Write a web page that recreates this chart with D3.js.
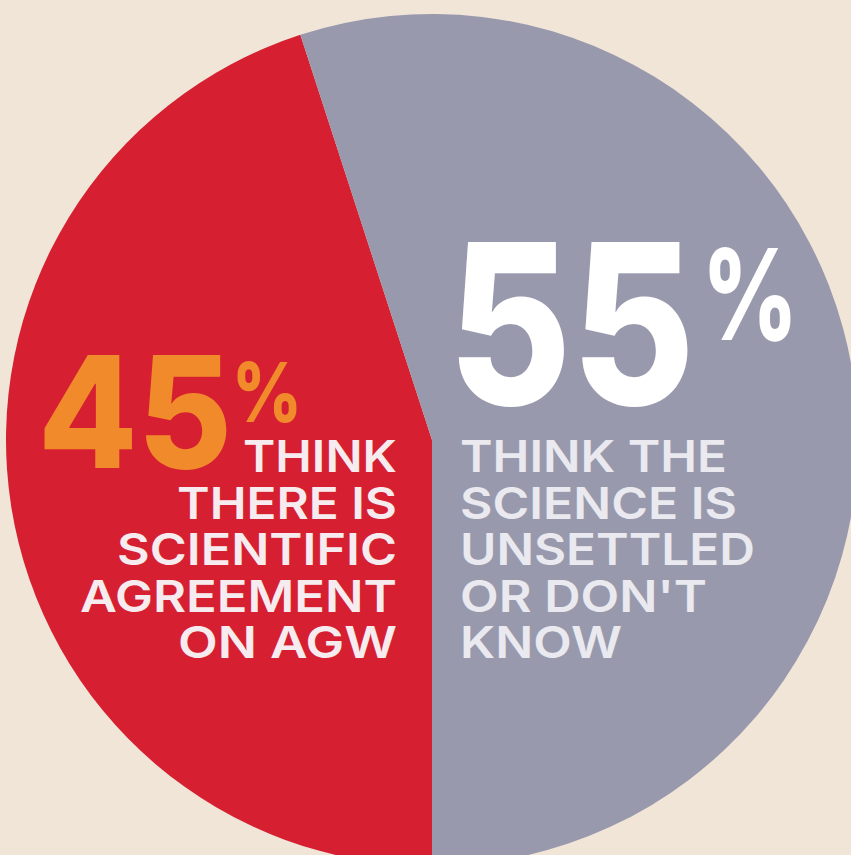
<!DOCTYPE html>
<html>
<head>
<meta charset="utf-8">
<script src="https://cdn.jsdelivr.net/npm/d3@7/dist/d3.min.js"></script>
<style>
html,body{margin:0;padding:0;background:#f1e5d7;}
svg{display:block;}
</style>
</head>
<body>
<svg id="chart" width="851" height="855"></svg>
<script>
// ---- data ----
const categories = ["Agreement on AGW", "Unsettled or don't know"];
const values = [45, 55];
const leftLines = ["THINK", "THERE IS", "SCIENTIFIC", "AGREEMENT", "ON AGW"];
const rightLines = ["THINK THE", "SCIENCE IS", "UNSETTLED", "OR DON'T", "KNOW"];

// ---- layout ----
const W = 851, H = 855;
const cx = 432, cy = 440, R = 426;
const svg = d3.select("#chart");
svg.append("rect").attr("width", W).attr("height", H).attr("fill", "#f1e5d7");

const defs = svg.append("defs");
const grad = defs.append("linearGradient").attr("id", "redGrad")
  .attr("gradientUnits", "userSpaceOnUse")
  .attr("x1", 0).attr("y1", 0).attr("x2", cx).attr("y2", 0);
grad.append("stop").attr("offset", "0%").attr("stop-color", "#d61f31");
grad.append("stop").attr("offset", "65%").attr("stop-color", "#cb1e2e");
grad.append("stop").attr("offset", "100%").attr("stop-color", "#b71c2c");

const colors = d3.scaleOrdinal().domain(categories).range(["url(#redGrad)", "#9899ad"]);

const pie = d3.pie().sort(null).value(d => d.v)
  .startAngle(Math.PI).endAngle(3 * Math.PI);
const arcs = pie(categories.map((c, i) => ({c, v: values[i]})));
const arc = d3.arc().innerRadius(0).outerRadius(R);

const g = svg.append("g").attr("transform", `translate(${cx},${cy})`);
g.selectAll("path").data(arcs).join("path")
  .attr("d", arc)
  .attr("fill", d => colors(d.data.c));

// ---- big percentages (number + superscript % in one text) ----
const bigFont = "Inter, Lato, sans-serif";
function bigPct(value, x, y, size, width, pctX, pctY, pctSize, pctW, fill) {
  const t = svg.append("text")
    .attr("font-family", bigFont).attr("font-weight", 800).attr("fill", fill);
  t.append("tspan").attr("x", x).attr("y", y).attr("font-size", size)
    .attr("textLength", width).attr("lengthAdjust", "spacingAndGlyphs")
    .text(value);
  t.append("tspan").attr("x", pctX).attr("y", pctY).attr("font-size", pctSize)
    .attr("textLength", pctW).attr("lengthAdjust", "spacingAndGlyphs")
    .text("%");
}
bigPct(values[0], 38, 468, 156, 194, 232, 422, 82, 70, "#f08a2b");
bigPct(values[1], 448, 405, 224, 247, 702, 340, 126, 96, "#ffffff");

// ---- label lines (one text block per label) ----
const baselines = [472, 519, 565, 612, 658];
const leftWidths = [154, 220, 280, 317, 219];
const rightWidths = [267, 277, 295, 247, 162];
const lineFont = "Inter, Lato, sans-serif";
const lineSize = 44;

const lt = svg.append("text")
  .attr("font-family", lineFont).attr("font-weight", 600).attr("font-size", lineSize)
  .attr("fill", "#f6ebee");
lt.selectAll("tspan").data(leftLines).join("tspan")
  .attr("x", (d, i) => 397 - leftWidths[i])
  .attr("y", (d, i) => baselines[i])
  .attr("textLength", (d, i) => leftWidths[i]).attr("lengthAdjust", "spacingAndGlyphs")
  .text(d => d);

const rt = svg.append("text")
  .attr("font-family", lineFont).attr("font-weight", 600).attr("font-size", lineSize)
  .attr("fill", "#e9e9ef");
rt.selectAll("tspan").data(rightLines).join("tspan")
  .attr("x", 460)
  .attr("y", (d, i) => baselines[i])
  .attr("textLength", (d, i) => rightWidths[i]).attr("lengthAdjust", "spacingAndGlyphs")
  .text(d => d);
</script>
</body>
</html>
